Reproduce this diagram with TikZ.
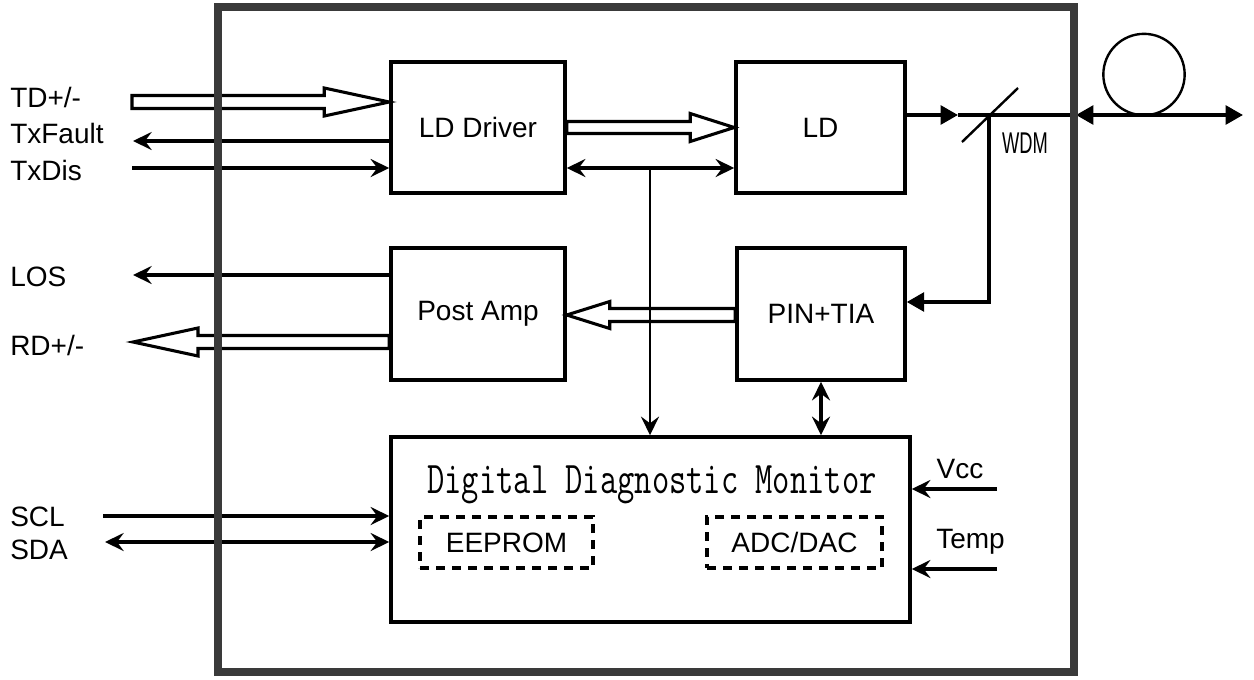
\documentclass[tikz,border=0pt]{standalone}
\usepackage{fontspec}
\setmainfont{Liberation Sans}
\usetikzlibrary{arrows.meta,calc}
\definecolor{framegray}{HTML}{3A3A3A}
\newcommand\hollowarrow[5]{%
  \draw[hollow] ($(#1)+(0,#4)$) -- ($(#2)+(#3,#4)$) -- ($(#2)+(#3,#5)$) -- (#2)
    -- ($(#2)+(#3,-#5)$) -- ($(#2)+(#3,-#4)$) -- ($(#1)+(0,-#4)$) -- cycle;}
\begin{document}
\begin{tikzpicture}[x=0.75pt,y=-0.75pt,
  txt/.style={font=\fontsize{21}{24}\selectfont},
  blk/.style={draw,line width=2.6pt,inner sep=0pt,txt},
  dbox/.style={draw,line width=2.5pt,dash pattern=on 7pt off 5pt,inner sep=0pt,txt},
  lbl/.style={txt,inner sep=0pt},
  conn/.style={line width=2.7pt},
  thin conn/.style={line width=2pt},
  hollow/.style={line width=2.3pt,line join=miter},
  >={Stealth[length=14pt,width=13.5pt,inset=5pt]},
  tri/.tip={Triangle[length=13pt,width=14pt]}]
\useasboundingbox (0,0) rectangle (1254,679);
% blocks
\node[blk,minimum width=130.5pt,minimum height=98.25pt] (ldd) at (478,127.5) {LD Driver};
\node[blk,minimum width=126.75pt,minimum height=98.25pt] (ld) at (820.5,127.5) {LD};
\node[blk,minimum width=130.5pt,minimum height=99pt] (pa) at (478,314) {Post Amp};
\node[blk,minimum width=126pt,minimum height=99pt] (pin) at (821,314) {PIN+TIA};
\node[blk,minimum width=389.25pt,minimum height=138.75pt] (ddm) at (650.5,529.5) {};
\node[font=\ttfamily\fontsize{34}{36}\selectfont,xscale=0.74,anchor=base] (ddmt) at (652,493) {Digital Diagnostic Monitor};
\node[dbox,minimum width=129.75pt,minimum height=38.25pt] (eep) at (506.5,542.5) {EEPROM};
\node[dbox,minimum width=131.25pt,minimum height=38.25pt] (adc) at (794.5,542.5) {ADC/DAC};
% labels
\node[lbl,anchor=base west] (ltd) at (10,107) {TD+/-};
\node[lbl,anchor=base west] (ltxf) at (10,143) {TxFault};
\node[lbl,anchor=base west] (ltxd) at (10,180) {TxDis};
\node[lbl,anchor=base west] (llos) at (10,286) {LOS};
\node[lbl,anchor=base west] (lrd) at (10,355) {RD+/-};
\node[lbl,anchor=base west] (lscl) at (10,526) {SCL};
\node[lbl,anchor=base west] (lsda) at (10,559) {SDA};
\node[lbl,anchor=base] (lvcc) at (960,478) {Vcc};
\node[lbl,anchor=base west] (ltemp) at (936,548) {Temp};
\node[font=\fontsize{22.5}{26}\selectfont,inner sep=0pt,xscale=0.61,anchor=base west] (lwdm) at (1002,153) {WDM};
% coordinates
\coordinate (tdL) at (132,102);
\coordinate (tdT) at (tdL -| ldd.west);
\coordinate (txfL) at (133,141);
\coordinate (txdL) at (132,168);
\coordinate (bus) at (650,168);
\coordinate (wdm) at (989,115);
\coordinate (ldarr) at (958,115);
\coordinate (frameR) at (1076,115);
\coordinate (fibR) at (1243,115);
\coordinate (wdmdn) at (989,302);
\coordinate (losL) at (133,275);
\coordinate (rdL) at (133,342);
\coordinate (rdS) at (rdL -| pa.west);
\coordinate (pinW) at ($(pin.west)+(0,1)$);
\coordinate (paE) at (pinW -| pa.east);
\coordinate (sclL) at (103,516);
\coordinate (sdaL) at (105,542);
\coordinate (vccR) at (997,489);
\coordinate (tempR) at (997,569);
% transmit side
\hollowarrow{tdL}{tdT}{-65}{6.5}{14}
\draw[conn,->] (txfL -| ldd.west) -- (txfL);
\draw[conn,->] (txdL) -- (txdL -| ldd.west);
\hollowarrow{ldd.east}{ld.west}{-44}{6}{14}
\draw[conn,<->] (bus -| ldd.east) -- (bus -| ld.west);
\draw[thin conn,->] (bus) -- (bus |- ddm.north);
% optical path
\draw[conn,-tri] (ld.east |- wdm) -- (ldarr);
\draw[conn] (ldarr) -- (frameR);
\draw[conn,tri-tri] (frameR) -- (fibR);
\node[draw,circle,line width=1.8pt,minimum size=61pt,inner sep=0pt] (coil) at (1144,74.5) {};
\draw[line width=1.8pt] ($(wdm)+(-27,27)$) -- ($(wdm)+(29,-27)$);
\draw[conn,-tri] (wdm) -- (wdmdn) -- (wdmdn -| pin.east);
% receive side
\hollowarrow{pinW}{paE}{43}{6.5}{13.5}
\draw[conn,->] (losL -| pa.west) -- (losL);
\hollowarrow{rdS}{rdL}{65}{6.5}{14}
\draw[conn,<->] (pin.south) -- (pin.south |- ddm.north);
% management
\draw[conn,->] (sclL) -- (sclL -| ddm.west);
\draw[conn,<->] (sdaL) -- (sdaL -| ddm.west);
\draw[conn,->] (vccR) -- (vccR -| ddm.east);
\draw[conn,->] (tempR) -- (tempR -| ddm.east);
% module frame
\node[draw=framegray,line width=6pt,minimum width=642pt,minimum height=498.75pt,inner sep=0pt] (module) at (646,339.5) {};
\end{tikzpicture}
\end{document}
